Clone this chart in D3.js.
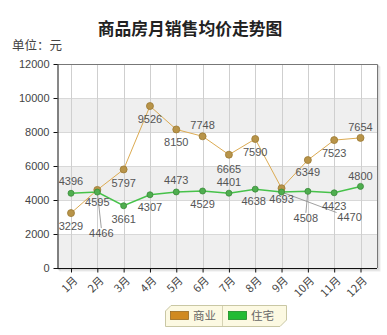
<!DOCTYPE html>
<meta charset="utf-8">
<style>
body { margin: 0; background: #fff; }
svg { font-family: "Liberation Sans", Arial, "Noto Sans CJK SC", sans-serif; }
.cjk { font-family: "Noto Sans CJK SC", sans-serif; }
</style>
<svg width="387" height="335"></svg>
<script src="https://d3js.org/d3.v7.min.js"></script>
<script>

var months = ["1月","2月","3月","4月","5月","6月","7月","8月","9月","10月","11月","12月"];
var bizValues = [3229, 4595, 5797, 9526, 8150, 7748, 6665, 7590, 4693, 6349, 7523, 7654];
var homeValues = [4396, 4466, 3661, 4307, 4473, 4529, 4401, 4638, 4470, 4508, 4423, 4800];
var yTicks = [0, 2000, 4000, 6000, 8000, 10000, 12000];
var seriesNames = ["商业", "住宅"];

// where each value label sits relative to its point (dx, dy, leader line?)
var bizLabelPos = [[0,13],[0,12.5],[0,13.5],[0,13.5],[0,13],[0,-11],[0,14.5],[0,13.5],[0,11],[0,12.5],[0,13],[0,-10.5]];
var homeLabelPos = [[0,-12],[4,41,1],[0,13],[0,12.7],[0,-12],[0,13.5],[0,-11],[-1.5,12],[68,25.5,1],[-2,26.5,1],[0,13],[0,-10.5]];

var svg = d3.select("svg");
var pLeft = 57, pRight = 377, pTop = 64, pBottom = 268;

var x = d3.scalePoint().domain(months).range([pLeft + 14, pRight - 16.5]);
var y = d3.scaleLinear().domain([0, 12000]).range([pBottom, pTop]);

// title
svg.append("text").attr("class", "cjk")
    .attr("x", 190).attr("y", 34.5).attr("text-anchor", "middle")
    .attr("font-size", 16.8).attr("font-weight", "bold").attr("fill", "#222")
    .text("商品房月销售均价走势图");
svg.append("text").attr("class", "cjk")
    .attr("x", 12).attr("y", 50).attr("font-size", 12.5).attr("fill", "#444")
    .text("单位：元");

// shadow
[[3, 0.08], [2, 0.12], [1, 0.18]].forEach(function(s) {
  svg.append("rect").attr("x", pLeft + s[0]).attr("y", pTop + s[0])
      .attr("width", pRight - pLeft).attr("height", pBottom - pTop)
      .attr("fill", "none").attr("stroke", "#000").attr("stroke-opacity", s[1]);
});
svg.append("rect").attr("x", pLeft).attr("y", pTop)
    .attr("width", pRight - pLeft).attr("height", pBottom - pTop).attr("fill", "#fff");

// alternating bands
svg.selectAll(".band")
  .data([[8000, 10000], [4000, 6000], [0, 2000]])
  .enter().append("rect")
    .attr("x", pLeft).attr("width", pRight - pLeft)
    .attr("y", function(d) { return y(d[1]); })
    .attr("height", function(d) { return y(d[0]) - y(d[1]); })
    .attr("fill", "#efefef");

svg.selectAll(".hgrid")
  .data(yTicks.slice(1, -1))
  .enter().append("line")
    .attr("x1", pLeft).attr("x2", pRight)
    .attr("y1", function(d) { return y(d) + 0.5; })
    .attr("y2", function(d) { return y(d) + 0.5; })
    .attr("stroke", "#d8d8d8");

svg.selectAll(".vgrid")
  .data(months)
  .enter().append("line")
    .attr("x1", function(d) { return Math.round(x(d)) + 0.5; })
    .attr("x2", function(d) { return Math.round(x(d)) + 0.5; })
    .attr("y1", pTop).attr("y2", pBottom)
    .attr("stroke", "#cfcfcf");

// plot border (top / right)
svg.append("path")
    .attr("d", "M" + pLeft + "," + (pTop + 0.5) + "H" + (pRight + 0.5) + "V" + pBottom)
    .attr("fill", "none").attr("stroke", "#777");

// axes
var yAxis = svg.append("g")
    .attr("transform", "translate(" + (pLeft + 0.5) + ",0)")
    .call(d3.axisLeft(y).tickValues(yTicks).tickFormat(d3.format("d"))
      .tickSize(4).tickPadding(4).tickSizeOuter(0));
yAxis.select(".domain").attr("stroke", "#111");
yAxis.selectAll("line").attr("stroke", "#111");
yAxis.selectAll("text").attr("font-size", 11).attr("fill", "#444")
    .attr("font-family", "'Liberation Sans', Arial, sans-serif");

var xAxis = svg.append("g")
    .attr("transform", "translate(0," + (pBottom + 0.5) + ")")
    .call(d3.axisBottom(x).tickSize(4).tickSizeOuter(0));
xAxis.select(".domain").attr("stroke", "#111").attr("d", "M" + pLeft + ",0H" + pRight);
xAxis.selectAll("line").attr("stroke", "#111");
xAxis.selectAll("text")
    .attr("font-size", 11).attr("fill", "#444").attr("class", "cjk")
    .attr("text-anchor", "end")
    .attr("y", 0).attr("dy", "0.35em")
    .attr("transform", "translate(4,10) rotate(-45)");

// series
var series = [
  { name: seriesNames[0], values: bizValues, pos: bizLabelPos, line: "#dcab52", width: 1,
    fill: "#b89449", stroke: "#9c7a33", r: 3.5 },
  { name: seriesNames[1], values: homeValues, pos: homeLabelPos, line: "#47c24a", width: 1.5,
    fill: "#4fae4f", stroke: "#3a8a3a", r: 3 }
];

var line = d3.line()
    .x(function(d, i) { return x(months[i]); })
    .y(function(d) { return y(d); });

series.forEach(function(s) {
  svg.append("path").datum(s.values)
      .attr("d", line).attr("fill", "none")
      .attr("stroke", s.line).attr("stroke-width", s.width);
});

// leader lines
series.forEach(function(s) {
  s.values.forEach(function(v, i) {
    var p = s.pos[i];
    if (!p[2]) return;
    var px = x(months[i]), py = y(v);
    svg.append("line")
        .attr("x1", px).attr("y1", py)
        .attr("x2", px + p[0] - (p[0] > 20 ? 13 : 0)).attr("y2", py + p[1] - 5)
        .attr("stroke", "#888").attr("stroke-width", 0.8);
  });
});

series.forEach(function(s) {
  svg.selectAll(null).data(s.values).enter().append("circle")
      .attr("cx", function(d, i) { return x(months[i]); })
      .attr("cy", function(d) { return y(d); })
      .attr("r", s.r)
      .attr("fill", s.fill).attr("stroke", s.stroke).attr("stroke-width", 0.8);
});

series.forEach(function(s) {
  svg.selectAll(null).data(s.values).enter().append("text")
      .attr("x", function(d, i) { return x(months[i]) + s.pos[i][0]; })
      .attr("y", function(d, i) { return y(d) + s.pos[i][1]; })
      .attr("dy", "0.35em")
      .attr("text-anchor", "middle")
      .attr("font-size", 11).attr("fill", "#555")
      .text(function(d) { return d; });
});

// legend
var lg = svg.append("g");
lg.append("path")
    .attr("d", "M171,305.5H286.5V320L280,326.5H165.5V311Z")
    .attr("fill", "#fcf9e2").attr("stroke", "#c9c7a4");
lg.append("line").attr("x1", 222.5).attr("x2", 222.5).attr("y1", 306).attr("y2", 326)
    .attr("stroke", "#d6d3b4");
var legendItems = [
  { name: seriesNames[0], color: "#d08a20", stroke: "#9a6a20", x: 170 },
  { name: seriesNames[1], color: "#22bb33", stroke: "#1a8a26", x: 228 }
];
legendItems.forEach(function(d) {
  lg.append("rect").attr("x", d.x + 0.5).attr("y", 311.5).attr("width", 18).attr("height", 8)
      .attr("fill", d.color).attr("stroke", d.stroke).attr("stroke-width", 0.8);
  lg.append("text").attr("class", "cjk")
      .attr("x", d.x + 23).attr("y", 320).attr("font-size", 11.5).attr("fill", "#666")
      .text(d.name);
});

</script>
